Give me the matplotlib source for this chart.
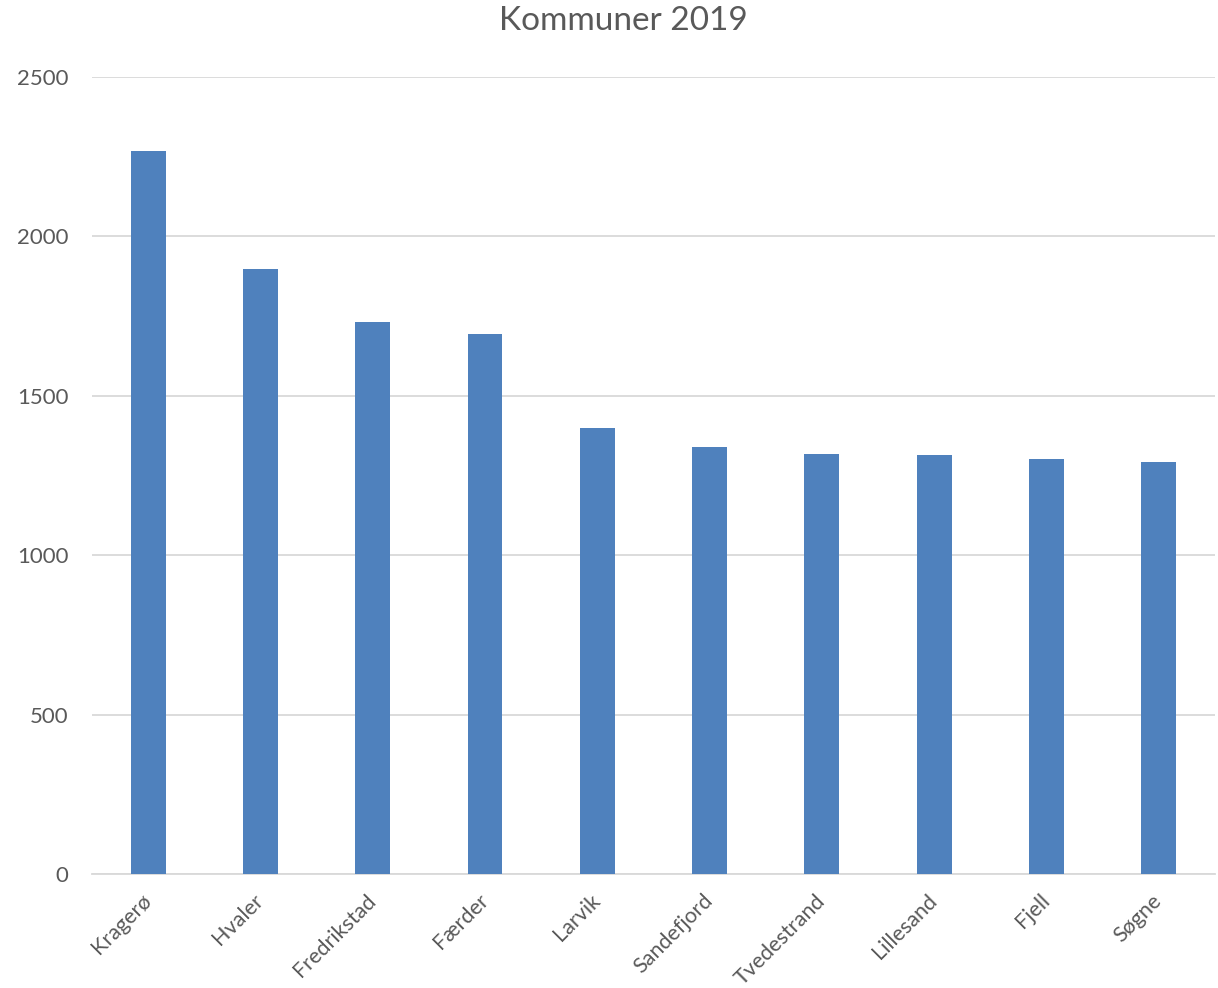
import matplotlib.pyplot as plt
import numpy as np

# Data
kommuner = ["Kragerø", "Hvaler", "Fredrikstad", "Færder", "Larvik",
            "Sandefjord", "Tvedestrand", "Lillesand", "Fjell", "Søgne"]
verdier = [2269, 1897, 1731, 1693, 1399, 1340, 1316, 1315, 1301, 1293]
y_ticks = [0, 500, 1000, 1500, 2000, 2500]

BAR_COLOR = "#4f81bd"
TEXT_COLOR = "#595959"
GRID_COLOR = "#d9d9d9"

plt.rcParams["font.family"] = ["Lato", "DejaVu Sans"]

fig = plt.figure(figsize=(12.18, 9.88), dpi=100)
ax = fig.add_axes([0.0755, 0.1154, 0.922, 0.8066])

x = np.arange(len(kommuner))
ax.bar(x, verdier, width=0.31, color=BAR_COLOR, zorder=3)

ax.set_xlim(-0.5, len(kommuner) - 0.5)
ax.set_ylim(0, 2500)
ax.set_yticks(y_ticks)
ax.set_yticklabels([str(v) for v in y_ticks], fontsize=16, color=TEXT_COLOR)
ax.set_xticks(x)
ax.set_xticklabels(kommuner, rotation=45, ha="right", va="center",
                   rotation_mode="anchor", fontsize=15.5, color=TEXT_COLOR)
ax.tick_params(axis="both", length=0)
ax.tick_params(axis="y", pad=17)
ax.tick_params(axis="x", pad=17)

ax.grid(axis="y", color=GRID_COLOR, linewidth=1.3, zorder=0)
for side in ["top", "right", "left"]:
    ax.spines[side].set_visible(False)
ax.spines["bottom"].set_color(GRID_COLOR)
ax.spines["bottom"].set_linewidth(1.3)

fig.text(0.512, 0.994, "Kommuner 2019", ha="center", va="top",
         fontsize=24, color=TEXT_COLOR)

fig.savefig("out.png", dpi=100)
